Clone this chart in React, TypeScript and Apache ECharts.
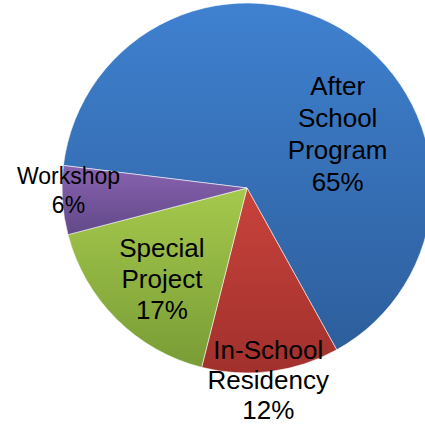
import React, { useEffect, useRef } from "react";
import * as echarts from "echarts";

const categories = ["After\nSchool\nProgram", "In-School\nResidency", "Special\nProject", "Workshop"];
const values = [65, 12, 17, 6];
const topColors = ["#3f81d0", "#c9433c", "#a5c94c", "#8863b0"];
const bottomColors = ["#2d5e9c", "#a1302c", "#799c36", "#624889"];

// layout (not data): label centre offsets, in units of the radius, from the pie centre
const CENTER = [247, 188];
const R = 185;
const labelOffsets = [
  [0.49, -0.29],
  [0.115, 1.04],
  [-0.46, 0.49],
  [-0.965, 0.015],
];
const labelSizes = [26, 26, 26, 23];
const labelLines = [32, 30, 31, 29];

export default function App() {
  const ref = useRef<HTMLDivElement>(null);
  useEffect(() => {
    if (!ref.current) return;
    const chart = echarts.init(ref.current, null, { renderer: "svg" });
    const data = values.map((v, i) => ({
      name: categories[i],
      value: v,
      itemStyle: {
        color: new echarts.graphic.LinearGradient(0, 0, 0, 1, [
          { offset: 0, color: topColors[i] },
          { offset: 1, color: bottomColors[i] },
        ]),
      },
      label: { fontSize: labelSizes[i], lineHeight: labelLines[i] },
    }));
    chart.setOption({
      animation: false,
      backgroundColor: "#ffffff",
      series: [
        {
          type: "pie",
          center: CENTER,
          radius: R,
          startAngle: 173,
          clockwise: true,
          avoidLabelOverlap: false,
          itemStyle: { borderColor: "rgba(255,255,255,0.55)", borderWidth: 1 },
          label: {
            show: true,
            position: "inside",
            color: "#000000",
            fontFamily: "Helvetica, 'Liberation Sans', Arial, sans-serif",
            fontWeight: "normal",
            align: "center",
            formatter: (p: any) => `${p.name}\n${Math.round(p.percent)}%`,
          },
          labelLine: { show: false },
          labelLayout: (p: any) => {
            const o = labelOffsets[p.dataIndex];
            return {
              x: CENTER[0] + o[0] * R,
              y: CENTER[1] + o[1] * R,
              align: "center",
              verticalAlign: "middle",
            };
          },
          emphasis: { disabled: true },
          data,
        },
      ],
    });
    return () => chart.dispose();
  }, []);
  return (
    <div
      ref={ref}
      style={{ position: "fixed", left: 0, top: 0, width: 425, height: 427, background: "#fff" }}
    />
  );
}
